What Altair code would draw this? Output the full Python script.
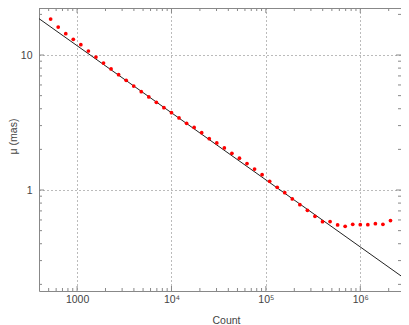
import altair as alt
import pandas as pd

# Data
counts = [524.8, 631.0, 758.6, 912.0, 1096, 1318, 1585, 1905, 2291, 2754,
          3311, 3981, 4786, 5754, 6918, 8318, 10000, 12023, 14454, 17378,
          20893, 25119, 30200, 36308, 43652, 52481, 63096, 75858, 91201, 109648,
          131826, 158489, 190546, 229087, 275423, 331131, 398107, 478630, 575440, 691831,
          831764, 1000000, 1202264, 1445440, 1737801, 2089296]
mu = [18.48, 16.12, 14.38, 13.07, 11.92, 10.71, 9.66, 8.72, 7.88, 7.15,
      6.49, 5.89, 5.35, 4.89, 4.46, 4.07, 3.74, 3.42, 3.12, 2.91,
      2.66, 2.40, 2.23, 2.05, 1.87, 1.72, 1.57, 1.43, 1.30, 1.16,
      1.047, 0.955, 0.858, 0.778, 0.708, 0.639, 0.582, 0.584, 0.551, 0.538,
      0.557, 0.553, 0.553, 0.563, 0.557, 0.594]

line_counts = [395, 3180000]
line_mu = [18.6, 0.213]

x_major = [1000, 10000, 100000, 1000000]
x_minor = [400, 500, 600, 700, 800, 900,
           2000, 3000, 4000, 5000, 6000, 7000, 8000, 9000,
           20000, 30000, 40000, 50000, 60000, 70000, 80000, 90000,
           200000, 300000, 400000, 500000, 600000, 700000, 800000, 900000,
           2000000]
y_major = [1, 10]
y_minor = [0.2, 0.3, 0.4, 0.5, 0.6, 0.7, 0.8, 0.9, 2, 3, 4, 5, 6, 7, 8, 9, 20]

W, H = 362, 283
XDOM = [395, 2700000]
YDOM = [0.1786, 22.3]
FONT = "Liberation Sans"
TXT = "#444444"
FRAME = "#888888"

xs = alt.Scale(type="log", domain=XDOM, nice=False)
ys = alt.Scale(type="log", domain=YDOM, nice=False)

pts = pd.DataFrame({"count": counts, "mu": mu})
ln = pd.DataFrame({"count": line_counts, "mu": line_mu})

label_expr = ("datum.value == 1000 ? '1000' : datum.value == 10000 ? '10\u2074' : "
              "datum.value == 100000 ? '10\u2075' : '10\u2076'")

base_x = alt.X("count:Q", scale=xs, axis=alt.Axis(
    title="Count", values=x_major, labelExpr=label_expr, ticks=False, domain=False,
    grid=True, gridDash=[1, 3], gridColor="#777777", gridWidth=1,
    labelFont=FONT, labelFontSize=10.5, labelColor=TXT, labelPadding=3,
    titleFont=FONT, titleFontSize=10.5, titleColor=TXT, titleFontWeight="normal",
    titleX=187, titleY=29, titleBaseline="middle", titleAlign="center"))
base_y = alt.Y("mu:Q", scale=ys, axis=alt.Axis(
    title="\u03bc (mas)", values=y_major, format="d", ticks=False, domain=False,
    grid=True, gridDash=[1, 3], gridColor="#777777", gridWidth=1,
    labelFont=FONT, labelFontSize=10.5, labelColor=TXT, labelPadding=7,
    titleFont=FONT, titleFontSize=10.5, titleColor=TXT, titleFontWeight="normal",
    titleX=-26, titleY=128, titleBaseline="middle", titleAlign="center", titleAngle=-90))

line = alt.Chart(ln).mark_line(color="#222222", strokeWidth=1, clip=True).encode(
    x=base_x, y=base_y)
points = alt.Chart(pts).mark_circle(color="#ff0000", size=14, opacity=1).encode(
    x=alt.X("count:Q", scale=xs), y=alt.Y("mu:Q", scale=ys))

def xticks(vals, length):
    df = pd.DataFrame({"count": vals})
    bot = alt.Chart(df).mark_rule(color=FRAME, strokeWidth=1).encode(
        x=alt.X("count:Q", scale=xs), y=alt.value(H), y2=alt.value(H - length))
    top = alt.Chart(df).mark_rule(color=FRAME, strokeWidth=1).encode(
        x=alt.X("count:Q", scale=xs), y=alt.value(0), y2=alt.value(length))
    return bot + top

def yticks(vals, length):
    df = pd.DataFrame({"mu": vals})
    left = alt.Chart(df).mark_rule(color=FRAME, strokeWidth=1).encode(
        y=alt.Y("mu:Q", scale=ys), x=alt.value(0), x2=alt.value(length))
    right = alt.Chart(df).mark_rule(color=FRAME, strokeWidth=1).encode(
        y=alt.Y("mu:Q", scale=ys), x=alt.value(W), x2=alt.value(W - length))
    return left + right

chart = alt.layer(
    line, points,
    xticks(x_major, 5), xticks(x_minor, 3),
    yticks(y_major, 5), yticks(y_minor, 3),
).properties(
    width=W, height=H, autosize="none",
    padding={"left": 31, "top": 0, "right": 0, "bottom": 34},
    background="white",
).configure_view(stroke=FRAME, strokeWidth=1)

chart.save("out.html", embed_options={"renderer": "svg", "actions": False})
